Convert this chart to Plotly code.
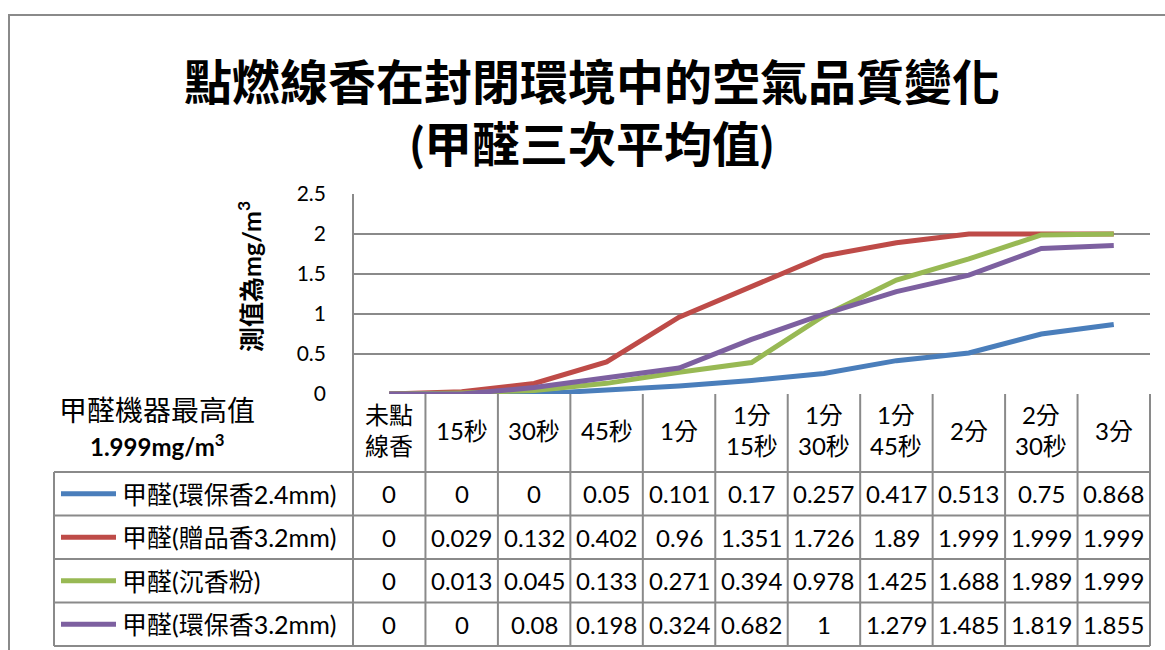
import plotly.graph_objects as go

# ---- data ----
categories = ["未點<br>線香", "15秒", "30秒", "45秒", "1分", "1分<br>15秒", "1分<br>30秒",
              "1分<br>45秒", "2分", "2分<br>30秒", "3分"]
series_names = ["甲醛(環保香2.4mm)", "甲醛(贈品香3.2mm)", "甲醛(沉香粉)", "甲醛(環保香3.2mm)"]
s_env24 = [0, 0, 0, 0.05, 0.101, 0.17, 0.257, 0.417, 0.513, 0.75, 0.868]
s_gift32 = [0, 0.029, 0.132, 0.402, 0.96, 1.351, 1.726, 1.89, 1.999, 1.999, 1.999]
s_agar = [0, 0.013, 0.045, 0.133, 0.271, 0.394, 0.978, 1.425, 1.688, 1.989, 1.999]
s_env32 = [0, 0, 0.08, 0.198, 0.324, 0.682, 1, 1.279, 1.485, 1.819, 1.855]
series_values = [s_env24, s_gift32, s_agar, s_env32]
colors = ["#4A7EBB", "#BE4B48", "#98B954", "#7D60A0"]
y_ticks = [0, 0.5, 1, 1.5, 2, 2.5]

W, H = 1165, 650
def px(x): return x / W
def py(y): return 1 - y / H

FONT = "Lato, 'Noto Sans CJK TC', sans-serif"
GRID = "#8A8A8A"

left, right = 353, 1150
top, axis_y = 194, 394
ncol = len(categories)
colw = (right - left) / ncol
col_edges = [left + i * colw for i in range(ncol + 1)]
header_bottom = 472
row_h = 43.5
row_edges = [header_bottom + k * row_h for k in range(len(series_names) + 1)]
box_left = 54

fig = go.Figure()
xs = list(range(ncol))
for name, vals, c in zip(series_names, series_values, colors):
    fig.add_trace(go.Scatter(x=xs, y=vals, mode="lines", name=name,
                             line=dict(color=c, width=5), showlegend=False))

shapes = []
# chart-area border
shapes.append(dict(type="rect", xref="paper", yref="paper", x0=px(9), x1=px(1250),
                   y0=py(740), y1=py(15), line=dict(color=GRID, width=2)))
# left vertical line of plot/table
shapes.append(dict(type="line", xref="paper", yref="paper", x0=px(left), x1=px(left),
                   y0=py(top), y1=py(row_edges[-1]), line=dict(color=GRID, width=2)))
for xe in col_edges[1:]:
    shapes.append(dict(type="line", xref="paper", yref="paper", x0=px(xe), x1=px(xe),
                       y0=py(axis_y), y1=py(row_edges[-1]), line=dict(color=GRID, width=2)))
shapes.append(dict(type="line", xref="paper", yref="paper", x0=px(box_left), x1=px(box_left),
                   y0=py(row_edges[0]), y1=py(row_edges[-1]), line=dict(color=GRID, width=2)))
for ye in row_edges:
    shapes.append(dict(type="line", xref="paper", yref="paper", x0=px(box_left), x1=px(right),
                       y0=py(ye), y1=py(ye), line=dict(color=GRID, width=2)))
# legend keys
for k, c in enumerate(colors):
    yc = (row_edges[k] + row_edges[k + 1]) / 2
    shapes.append(dict(type="line", xref="paper", yref="paper", x0=px(61), x1=px(116),
                       y0=py(yc), y1=py(yc), line=dict(color=c, width=5)))

ann = []
# header labels
for i, cat in enumerate(categories):
    xc = (col_edges[i] + col_edges[i + 1]) / 2
    ann.append(dict(x=px(xc), y=py((axis_y + header_bottom) / 2 - 3), xref="paper", yref="paper",
                    text=cat, showarrow=False, font=dict(family=FONT, size=24, color="#000"),
                    xanchor="center", yanchor="middle"))
# data cells
for k, (name, vals) in enumerate(zip(series_names, series_values)):
    yc = (row_edges[k] + row_edges[k + 1]) / 2
    ann.append(dict(x=px(120), y=py(yc), xref="paper", yref="paper", text=name,
                    showarrow=False, font=dict(family=FONT, size=25, color="#000"),
                    xanchor="left", yanchor="middle"))
    for i, v in enumerate(vals):
        xc = (col_edges[i] + col_edges[i + 1]) / 2
        ann.append(dict(x=px(xc), y=py(yc), xref="paper", yref="paper", text=f"{v:g}",
                        showarrow=False, font=dict(family=FONT, size=24, color="#000"),
                        xanchor="center", yanchor="middle"))
# side labels
ann.append(dict(x=px(157), y=py(410), xref="paper", yref="paper", text="甲醛機器最高值",
                showarrow=False, font=dict(family=FONT, size=28, color="#000"),
                xanchor="center", yanchor="middle"))
ann.append(dict(x=px(157), y=py(445), xref="paper", yref="paper", text="<b>1.999mg/m<sup>3</sup></b>",
                showarrow=False, font=dict(family=FONT, size=24, color="#000"),
                xanchor="center", yanchor="middle"))
ann.append(dict(x=px(250), y=py(277), xref="paper", yref="paper", text="<b>測值為mg/m<sup>3</sup></b>",
                showarrow=False, textangle=-90, font=dict(family=FONT, size=25, color="#000"),
                xanchor="center", yanchor="middle"))

fig.update_layout(
    width=W, height=H, autosize=False,
    margin=dict(l=0, r=0, t=0, b=0, pad=0, autoexpand=False),
    paper_bgcolor="white", plot_bgcolor="white",
    title=dict(text="<b>點燃線香在封閉環境中的空氣品質變化<br>(甲醛三次平均值)</b>",
               x=px(592), xanchor="center", y=py(100), yanchor="middle",
               font=dict(family=FONT, size=48, color="#000")),
    xaxis=dict(domain=[px(left), px(right)], range=[-0.5, ncol - 0.5], automargin=False,
               showticklabels=False, showgrid=False, zeroline=False, showline=False),
    yaxis=dict(domain=[py(axis_y), py(top)], range=[0, 2.5], tickvals=y_ticks, automargin=False,
               ticktext=[f"{t:g}" for t in y_ticks],
               showgrid=True, gridcolor=GRID, gridwidth=2, zeroline=False, showline=False,
               ticks="", ticklabelstandoff=26,
               tickfont=dict(family=FONT, size=21, color="#000")),
    shapes=shapes, annotations=ann,
)
fig.write_html("out.html", config={"displayModeBar": False},
               post_script="document.body.style.margin='0';document.body.style.padding='0';")
